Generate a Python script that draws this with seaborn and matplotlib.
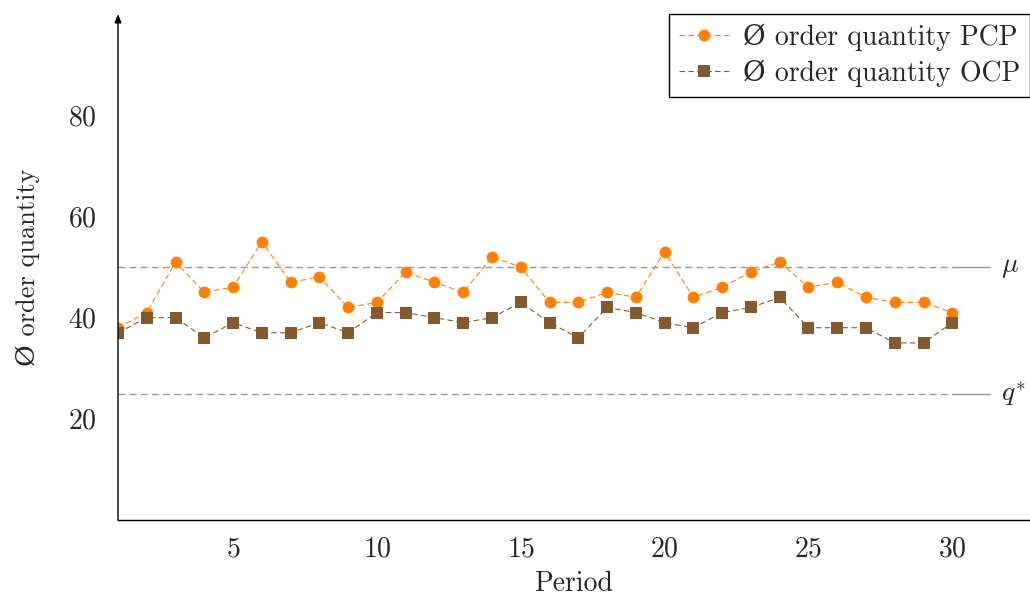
import numpy as np
import pandas as pd
import matplotlib
matplotlib.use("Agg")
import matplotlib.pyplot as plt
import seaborn as sns

# Valores
periods = list(range(1, 31))
pcp = [38, 41, 51, 45, 46, 55, 47, 48, 42, 43, 49, 47, 45, 52, 50,
       43, 43, 45, 44, 53, 44, 46, 49, 51, 46, 47, 44, 43, 43, 41]
ocp = [37, 40, 40, 36, 39, 37, 37, 39, 37, 41, 41, 40, 39, 40, 43,
       39, 36, 42, 41, 39, 38, 41, 42, 44, 38, 38, 38, 35, 35, 39]
ref_values = [50, 25]
ref_labels = [r"$\mu$", r"$q^{*}$"]
series_labels = ["Ø order quantity PCP", "Ø order quantity OCP"]
yticks = [20, 40, 60, 80]
xticks = [5, 10, 15, 20, 25, 30]

sns.set_style("white")
plt.rcParams["font.family"] = ["cmr10", "DejaVu Serif"]
plt.rcParams["mathtext.fontset"] = "cm"
plt.rcParams["axes.formatter.use_mathtext"] = True

df = pd.DataFrame({"Period": periods, "PCP": pcp, "OCP": ocp})

fig = plt.figure(figsize=(10.30, 5.96), dpi=100)
ax = fig.add_axes([118 / 1030, 76 / 596, 1 - 118 / 1030, (520 - 14) / 596])

orange = "#FF8000"
brown = "#845B2F"

sns.lineplot(data=df, x="Period", y="PCP", ax=ax, color=orange, linestyle=(0, (5, 3)),
             linewidth=0.8, marker="o", markersize=8.5, markeredgewidth=0,
             label=series_labels[0])
sns.lineplot(data=df, x="Period", y="OCP", ax=ax, color=brown, linestyle=(0, (5, 3)),
             linewidth=0.8, marker="s", markersize=8, markeredgewidth=0,
             label=series_labels[1])

# Linhas de referência
for v, lab in zip(ref_values, ref_labels):
    ax.plot([1, 30], [v, v], color="#999999", linestyle=(0, (5, 3)), linewidth=1.0, zorder=1)
    ax.plot([30, 31.3], [v, v], color="#999999", linestyle="-", linewidth=1.0, zorder=1)
    ax.text(31.7, v, lab, fontsize=20, va="center", ha="left")

ax.set_xlim(1, 32.7)
ax.set_ylim(0, 100)
ax.set_xticks(xticks)
ax.set_yticks(yticks)
ax.set_yticks(ref_values, minor=True)
ax.tick_params(axis="both", which="both", direction="inout", length=7, width=0.8,
               color="#999999", labelsize=20, pad=6)
ax.tick_params(axis="y", pad=12)
ax.tick_params(axis="x", pad=8)

for side in ["top", "right"]:
    ax.spines[side].set_visible(False)
ax.spines["left"].set_visible(False)
ax.spines["bottom"].set_linewidth(1.0)
ax.spines["bottom"].set_color("black")
ax.annotate("", xy=(0, 1.0), xytext=(0, 0), xycoords="axes fraction",
            arrowprops=dict(arrowstyle="-|>,head_length=0.5,head_width=0.2",
                            color="black", linewidth=1.0, shrinkA=0, shrinkB=0))

ax.set_xlabel("Period", fontsize=20, labelpad=6)
ax.set_ylabel("Ø order quantity", fontsize=19, labelpad=20)

leg = ax.legend(loc="upper right", bbox_to_anchor=(1.0, 1.0), fontsize=20, frameon=True,
                fancybox=False, edgecolor="black", framealpha=1, borderpad=0.35,
                handlelength=1.8, handletextpad=0.5, labelspacing=0.3, borderaxespad=0)
leg.get_frame().set_linewidth(1.0)

fig.savefig("out.png", dpi=100)
